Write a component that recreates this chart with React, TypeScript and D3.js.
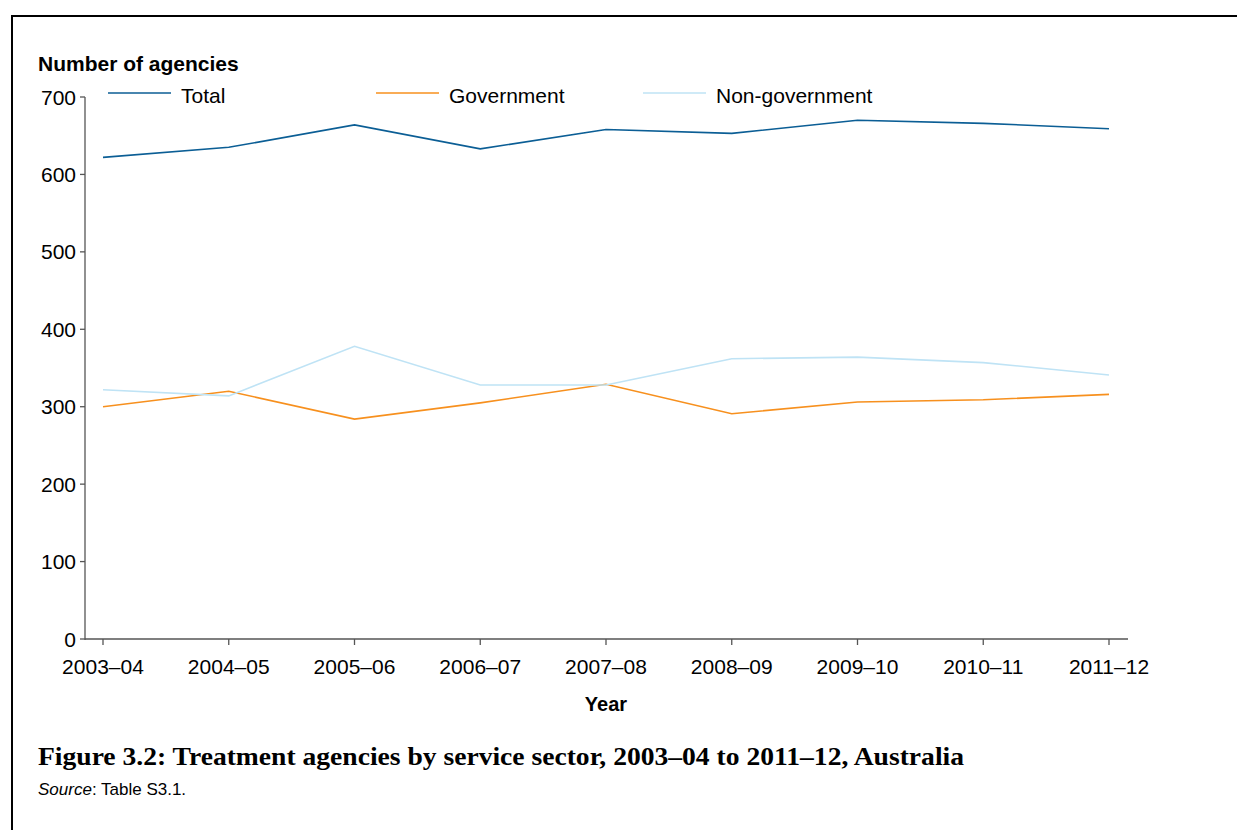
import React from "react";
import * as d3 from "d3";

const years = ["2003–04", "2004–05", "2005–06", "2006–07", "2007–08", "2008–09", "2009–10", "2010–11", "2011–12"];
const total = [622, 635, 664, 633, 658, 653, 670, 666, 659];
const government = [300, 320, 284, 305, 329, 291, 306, 309, 316];
const nonGovernment = [322, 314, 378, 328, 328, 362, 364, 357, 341];
const yTicks = [0, 100, 200, 300, 400, 500, 600, 700];

const seriesNames = ["Total", "Government", "Non-government"];
const seriesColors = ["#0b5e95", "#f7901e", "#bfe3f5"];

export default function App() {
  const W = 1237, H = 830;
  const axisLeft = 85, axisRight = 1128;
  const x = d3.scalePoint<string>().domain(years).range([103, 1109]);
  const y = d3.scaleLinear().domain([0, 700]).range([639, 97]);
  const line = d3.line<number>().x((_, i) => x(years[i]) as number).y((d) => y(d));
  const series = [total, government, nonGovernment];
  const legendX = [108, 376, 643];
  const font = "Liberation Sans, Arial, sans-serif";
  const fs = 21;

  return (
    <svg width={W} height={H} style={{ position: "absolute", left: 0, top: 0, background: "#fff" }}>
      <rect x={0} y={0} width={W} height={H} fill="#fff" />
      <path d={`M12,${H} L12,16 L${W},16`} fill="none" stroke="#000" strokeWidth={2} />
      <text x={38} y={71} fontFamily={font} fontWeight="bold" fontSize={fs}>Number of agencies</text>
      {/* legend */}
      {seriesNames.map((n, i) => (
        <g key={n}>
          <line x1={legendX[i]} x2={legendX[i] + 63} y1={93} y2={93} stroke={seriesColors[i]} strokeWidth={1.5} />
          <text x={legendX[i] + 73} y={103} fontFamily={font} fontSize={fs}>{n}</text>
        </g>
      ))}
      {/* y axis */}
      <line x1={axisLeft} x2={axisLeft} y1={y(700)} y2={y(0) + 1} stroke="#555" strokeWidth={1.3} />
      {yTicks.map((t) => (
        <g key={t}>
          <line x1={axisLeft - 5} x2={axisLeft} y1={y(t)} y2={y(t)} stroke="#555" strokeWidth={1.3} />
          <text x={axisLeft - 9} y={y(t) + 7.5} textAnchor="end" fontFamily={font} fontSize={fs}>{t}</text>
        </g>
      ))}
      {/* x axis */}
      <line x1={axisLeft} x2={axisRight} y1={y(0)} y2={y(0)} stroke="#555" strokeWidth={1.3} />
      {years.map((yr) => (
        <g key={yr}>
          <line x1={x(yr)} x2={x(yr)} y1={y(0)} y2={y(0) + 6} stroke="#555" strokeWidth={1.3} />
          <text x={x(yr)} y={y(0) + 35} textAnchor="middle" fontFamily={font} fontSize={fs}>{yr}</text>
        </g>
      ))}
      <text x={606} y={711} textAnchor="middle" fontFamily={font} fontWeight="bold" fontSize={fs - 1}>Year</text>
      {/* lines */}
      {series.map((s, i) => (
        <path key={i} d={line(s) || ""} fill="none" stroke={seriesColors[i]} strokeWidth={1.6} />
      ))}
      <text x={38} y={765} fontFamily="Liberation Serif, 'DejaVu Serif', serif" fontWeight="bold" fontSize={25} textLength={926} lengthAdjust="spacingAndGlyphs">Figure 3.2: Treatment agencies by service sector, 2003–04 to 2011–12, Australia</text>
      <text x={38} y={795} fontFamily={font} fontSize={17}><tspan fontStyle="italic">Source</tspan>: Table S3.1.</text>
    </svg>
  );
}
